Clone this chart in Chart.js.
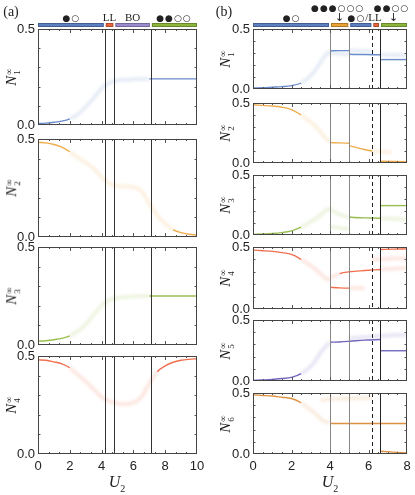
<!DOCTYPE html>
<html>
<head>
<meta charset="utf-8">
<script src="https://cdn.jsdelivr.net/npm/chart.js@4.4.0/dist/chart.umd.min.js"></script>
<style>
body { margin: 0; background: #fff; }
#fig { position: relative; width: 415px; height: 495px; overflow: hidden; font-family: "Liberation Serif", serif; color: #222; }
.panel { position: absolute; }
.lab { position: absolute; white-space: nowrap; transform: translate(-50%, -50%); line-height: 1; }
.ytitle { position: absolute; white-space: nowrap; transform: translate(-50%, -50%) rotate(-90deg); font-size: 15px; line-height: 1; }
.ss { display: inline-block; vertical-align: -0.45em; font-size: 9px; line-height: 0.95; font-style: normal; text-align: left; margin-left: 1px; }
.ss span { display: block; }
.sym { font-family: "DejaVu Sans", sans-serif; font-size: 9px; letter-spacing: 1px; }
.arrow { font-family: "DejaVu Sans", sans-serif; }
</style>
</head>
<body>
<div id="fig"></div>
<script>
// (a): populations vs U2
const uA = [0, 0.5, 1, 1.5, 2, 2.5, 3, 3.5, 4, 4.5, 5, 5.5, 6, 6.5, 7, 7.5, 8, 8.5, 9, 9.5, 10];
const nA1 = [0.008, 0.01, 0.014, 0.02, 0.032, 0.055, 0.095, 0.14, 0.19, 0.22, 0.232, 0.236, 0.238, 0.24, 0.24, 0.24, 0.24, 0.24, 0.24, 0.24, 0.24];
const nA2 = [0.483, 0.48, 0.472, 0.458, 0.435, 0.405, 0.38, 0.35, 0.305, 0.272, 0.262, 0.258, 0.254, 0.235, 0.17, 0.11, 0.068, 0.038, 0.022, 0.014, 0.01];
const nA3 = [0.02, 0.022, 0.027, 0.034, 0.047, 0.07, 0.105, 0.155, 0.2, 0.23, 0.24, 0.245, 0.248, 0.25, 0.25, 0.25, 0.25, 0.25, 0.25, 0.25, 0.25];
const nA4 = [0.48, 0.478, 0.47, 0.46, 0.44, 0.405, 0.37, 0.33, 0.29, 0.268, 0.258, 0.255, 0.262, 0.29, 0.36, 0.42, 0.45, 0.468, 0.478, 0.483, 0.486];

// (b): common part up to U2 = 4, then branches
const uB = [0, 0.5, 1, 1.5, 2, 2.5, 3, 3.25, 3.5, 3.75, 4];
const nB1 = [0.008, 0.01, 0.015, 0.02, 0.028, 0.05, 0.11, 0.16, 0.22, 0.28, 0.315];
const nB2 = [0.485, 0.48, 0.475, 0.465, 0.445, 0.4, 0.34, 0.305, 0.26, 0.21, 0.175];
const nB3 = [0.005, 0.008, 0.012, 0.02, 0.035, 0.065, 0.11, 0.135, 0.165, 0.2, 0.225];
const nB4 = [0.475, 0.47, 0.465, 0.455, 0.44, 0.4, 0.35, 0.32, 0.285, 0.25, 0.23];
const nB5 = [0.005, 0.008, 0.012, 0.02, 0.03, 0.06, 0.12, 0.17, 0.23, 0.28, 0.315];
const nB6 = [0.485, 0.48, 0.475, 0.465, 0.455, 0.42, 0.36, 0.33, 0.29, 0.265, 0.255];

const uB1Branch = [[4, 4.5, 5, 5.6, 6.2], [4, 5, 5.8, 6.6, 7.3, 8], [6.6, 8]];
const nB1Branch = [[0.318, 0.32, 0.32, 0.318, 0.315], [0.3, 0.29, 0.287, 0.285, 0.283, 0.28], [0.245, 0.245]];
const uB2Branch = [[4, 4.5, 5], [5, 5.6, 6.2, 7.2], [6.6, 8]];
const nB2Branch = [[0.17, 0.168, 0.165], [0.145, 0.12, 0.1, 0.09], [0.015, 0.01]];
const uB3Branch = [[4, 4.5, 5, 5.8, 6.6, 7.3, 8], [4, 4.5, 5], [6.6, 8]];
const nB3Branch = [[0.215, 0.17, 0.15, 0.143, 0.14, 0.135, 0.13], [0.07, 0.058, 0.05], [0.245, 0.245]];
const uB4Branch = [[4, 4.5, 5, 5.8, 6.6, 7.3, 8], [4, 4.5, 5, 5.4, 5.8], [6.6, 7.3, 8], [6.2, 7, 8]];
const nB4Branch = [[0.25, 0.285, 0.3, 0.31, 0.318, 0.325, 0.33], [0.175, 0.17, 0.168, 0.168, 0.168], [0.48, 0.483, 0.485], [0.4, 0.405, 0.41]];
const uB5Branch = [[4, 4.5, 5, 5.8, 6.6], [5, 5.8, 6.6, 7.3, 8], [6.6, 8]];
const nB5Branch = [[0.318, 0.32, 0.325, 0.335, 0.34], [0.35, 0.36, 0.37, 0.375, 0.38], [0.248, 0.248]];
const uB6Branch = [[4, 5, 5.8, 6.6, 7.3, 8], [3.5, 4, 5, 5.6, 6.2], [6.6, 8]];
const nB6Branch = [[0.25, 0.25, 0.25, 0.25, 0.25, 0.25], [0.44, 0.45, 0.455, 0.458, 0.46], [0.022, 0.008]];

// phase boundaries and labels
const aEdges = [0, 4.2, 4.8, 7.1, 10];
const aPhaseNames = ['●○', 'LL', 'BO', '●●○○'];
const bEdges = [0, 4, 5, 6.2, 6.6, 8];
const bLines = [4, 5, 6.2, 6.6];
const bLabelAt = [2, 4.5, 5.8, 7.3];
const bLabelText = ['●○', '●●●○○○', '●○/LL', '●●○○'];

const BLUE = '#5a80c4', ORANGE = '#eca33a', GREEN = '#8fb83e', RED = '#ef5f3c', PURPLE = '#6258b6', BROWN = '#d9862f';

const fig = document.getElementById('fig');

function rgba(hex, a) {
  const n = parseInt(hex.slice(1), 16);
  return `rgba(${n >> 16},${(n >> 8) & 255},${n & 255},${a})`;
}
function inAny(u, ranges) {
  return ranges.some(r => u >= r[0] && u <= r[1]);
}
// each curve = a blurred faint line where the data are spread out + a thin sharp line elsewhere
function curve(xs, ys, color, fuzzy) {
  const data = xs.map((x, i) => ({ x: x, y: ys[i] }));
  const mid = c => (c.p0.parsed.x + c.p1.parsed.x) / 2;
  return [
    { data, order: 1, blur: true, borderWidth: 3.5, borderColor: rgba(color, 0.17),
      segment: { borderColor: c => inAny(mid(c), fuzzy) ? rgba(color, 0.17) : 'rgba(0,0,0,0)' } },
    { data, order: 0, borderWidth: 1.4, borderColor: color,
      segment: { borderColor: c => inAny(mid(c), fuzzy) ? 'rgba(0,0,0,0)' : rgba(color, 0.9) } }
  ];
}

const blurPlugin = {
  id: 'blur',
  beforeDatasetDraw(chart, args) {
    if (chart.data.datasets[args.index].blur) {
      chart.ctx.save();
      chart.ctx.filter = 'blur(1.4px)';
    }
  },
  afterDatasetDraw(chart, args) {
    if (chart.data.datasets[args.index].blur) chart.ctx.restore();
  }
};

function framePlugin(col, first) {
  return {
    id: 'frame',
    afterDatasetsDraw(chart) {
      const { ctx, chartArea: a, scales: { x, y } } = chart;
      ctx.save();
      ctx.lineWidth = 1;
      col.lines.forEach((u, i) => {
        const px = Math.round(x.getPixelForValue(u)) + 0.5;
        ctx.strokeStyle = col.lineColors[i];
        ctx.setLineDash(col.lineDash[i]);
        ctx.beginPath();
        ctx.moveTo(px, a.top);
        ctx.lineTo(px, a.bottom);
        ctx.stroke();
      });
      ctx.setLineDash([]);
      // inner ticks on all four sides
      ctx.strokeStyle = '#555';
      const nx = Math.round(col.xMax / col.xMinor);
      const every = Math.round(2 / col.xMinor);
      ctx.beginPath();
      for (let k = 1; k < nx; k++) {
        const len = k % every === 0 ? 4 : 2;
        const px = Math.round(x.getPixelForValue(k * col.xMinor)) + 0.5;
        ctx.moveTo(px, a.bottom); ctx.lineTo(px, a.bottom - len);
        ctx.moveTo(px, a.top); ctx.lineTo(px, a.top + len);
      }
      for (let k = 1; k < 5; k++) {
        const py = Math.round(y.getPixelForValue(k * 0.1)) + 0.5;
        ctx.moveTo(a.left, py); ctx.lineTo(a.left + 2.5, py);
        ctx.moveTo(a.right, py); ctx.lineTo(a.right - 2.5, py);
      }
      ctx.stroke();
      ctx.strokeStyle = '#444';
      ctx.strokeRect(a.left + 0.5, a.top + 0.5, a.width - 1, a.height - 1);
      if (first) {
        const n = col.edges.length - 1;
        for (let i = 0; i < n; i++) {
          const x0 = x.getPixelForValue(col.edges[i]) + (i ? 1 : 0);
          const x1 = x.getPixelForValue(col.edges[i + 1]) - (i < n - 1 ? 1 : 0);
          ctx.fillStyle = col.phaseColors[i];
          ctx.fillRect(x0, a.top - 6, x1 - x0, 4);
          ctx.strokeStyle = 'rgba(0,0,0,0.25)';
          ctx.strokeRect(x0 + 0.5, a.top - 5.5, x1 - x0 - 1, 3);
        }
      }
      ctx.restore();
    }
  };
}

function addText(html, x, y, cls, size) {
  const d = document.createElement('div');
  d.className = cls;
  d.style.left = x + 'px';
  d.style.top = y + 'px';
  if (size) d.style.fontSize = size + 'px';
  d.innerHTML = html;
  fig.appendChild(d);
  return d;
}

function makePanel(col, row, curves) {
  const T = col.tops[row], H = col.heights[row];
  const first = row === 0, last = row === col.tops.length - 1;
  const padTop = first ? T : 8, padBottom = last ? 4 : 8, axisH = last ? 24 : 0;
  const div = document.createElement('div');
  div.className = 'panel';
  div.style.cssText = `left:${col.divLeft}px;top:${T - padTop}px;width:${col.divWidth}px;height:${padTop + H + axisH + padBottom}px`;
  const canvas = document.createElement('canvas');
  div.appendChild(canvas);
  fig.appendChild(div);
  const tickFont = { family: 'Liberation Sans', size: 13 };
  const chart = new Chart(canvas, {
    type: 'line',
    data: { datasets: curves.flat() },
    options: {
      responsive: true,
      maintainAspectRatio: false,
      animation: false,
      devicePixelRatio: 1,
      layout: { padding: { top: padTop, bottom: padBottom, left: 0, right: col.divLeft + col.divWidth - col.plotRight } },
      elements: { point: { radius: 0 }, line: { cubicInterpolationMode: 'monotone', fill: false } },
      plugins: { legend: { display: false }, tooltip: { enabled: false } },
      scales: {
        x: {
          type: 'linear', min: 0, max: col.xMax, display: last,
          grid: { display: false, drawTicks: false }, border: { display: false },
          ticks: { stepSize: 2, padding: 5, color: '#222', font: tickFont, maxRotation: 0 },
          afterFit: s => { s.height = axisH; s.paddingLeft = 0; s.paddingRight = 0; }
        },
        y: {
          min: 0, max: 0.5,
          grid: { display: false, drawTicks: false }, border: { display: false },
          ticks: { padding: 3, color: '#222', font: tickFont, callback: v => v.toFixed(1) },
          afterBuildTicks: s => { s.ticks = [{ value: 0 }, { value: 0.5 }]; },
          afterFit: s => { s.width = col.plotLeft - col.divLeft; s.paddingTop = 0; s.paddingBottom = 0; }
        }
      }
    },
    plugins: [blurPlugin, framePlugin(col, first)]
  });
  addText(`<i>N</i><span class="ss"><span>∞</span><span>${row + 1}</span></span>`, col.titleX, T + H / 2, 'ytitle');
  return chart;
}

const colA = {
  divLeft: 0, divWidth: 205, plotLeft: 38, plotRight: 197,
  tops: [29, 139, 247, 356], heights: [96, 98, 98, 98],
  xMax: 10, xMinor: 2 / 3, titleX: 13,
  lines: aEdges.slice(1, -1), lineColors: ['#333', '#333', '#333'], lineDash: [[], [], []],
  edges: aEdges, phaseColors: ['#5b7fc1', '#e9653b', '#9c8ccf', '#8cb53b']
};
const colB = {
  divLeft: 215, divWidth: 200, plotLeft: 253, plotRight: 407,
  tops: [29, 103, 175, 247, 320, 393], heights: [60, 60, 60, 62, 61, 61],
  xMax: 8, xMinor: 0.5, titleX: 227,
  lines: bLines, lineColors: ['#888', '#888', '#222', '#222'], lineDash: [[], [], [4, 3], []],
  edges: bEdges, phaseColors: ['#5b7fc1', '#e8a235', '#5b7fc1', '#e9653b', '#8cb53b']
};

const aCharts = [
  makePanel(colA, 0, [curve(uA, nA1, BLUE, [[2.2, 7.1]])]),
  makePanel(colA, 1, [curve(uA, nA2, ORANGE, [[2.0, 8.3]])]),
  makePanel(colA, 2, [curve(uA, nA3, GREEN, [[2.2, 7.1]])]),
  makePanel(colA, 3, [curve(uA, nA4, RED, [[2.0, 7.6]])])
];

const bCharts = [
  makePanel(colB, 0, [
    curve(uB, nB1, BLUE, [[2.6, 4]]),
    curve(uB1Branch[0], nB1Branch[0], BLUE, [[5, 8]]),
    curve(uB1Branch[1], nB1Branch[1], BLUE, [[4, 5], [6.6, 8]]),
    curve(uB1Branch[2], nB1Branch[2], BLUE, [])
  ]),
  makePanel(colB, 1, [
    curve(uB, nB2, ORANGE, [[2.6, 4]]),
    curve(uB2Branch[0], nB2Branch[0], ORANGE, []),
    curve(uB2Branch[1], nB2Branch[1], ORANGE, [[6.2, 8]]),
    curve(uB2Branch[2], nB2Branch[2], ORANGE, [])
  ]),
  makePanel(colB, 2, [
    curve(uB, nB3, GREEN, [[2.6, 4]]),
    curve(uB3Branch[0], nB3Branch[0], GREEN, [[4, 5], [6.6, 8]]),
    curve(uB3Branch[1], nB3Branch[1], GREEN, [[4, 5]]),
    curve(uB3Branch[2], nB3Branch[2], GREEN, [])
  ]),
  makePanel(colB, 3, [
    curve(uB, nB4, RED, [[2.6, 4]]),
    curve(uB4Branch[0], nB4Branch[0], RED, [[4, 4.5], [6.6, 8]]),
    curve(uB4Branch[1], nB4Branch[1], RED, [[5, 8]]),
    curve(uB4Branch[2], nB4Branch[2], RED, []),
    curve(uB4Branch[3], nB4Branch[3], RED, [[6, 8]])
  ]),
  makePanel(colB, 4, [
    curve(uB, nB5, PURPLE, [[2.6, 4]]),
    curve(uB5Branch[0], nB5Branch[0], PURPLE, []),
    curve(uB5Branch[1], nB5Branch[1], PURPLE, [[5, 8]]),
    curve(uB5Branch[2], nB5Branch[2], PURPLE, [])
  ]),
  makePanel(colB, 5, [
    curve(uB, nB6, BROWN, [[2.6, 4]]),
    curve(uB6Branch[0], nB6Branch[0], BROWN, []),
    curve(uB6Branch[1], nB6Branch[1], BROWN, [[3, 8]]),
    curve(uB6Branch[2], nB6Branch[2], BROWN, [])
  ])
];

// phase labels above the top panels
const sym = s => s.replace(/[●○]+/g, m => `<span class="sym">${m}</span>`);
const xa = aCharts[0].scales.x;
aPhaseNames.forEach((name, i) => {
  const u = (aEdges[i] + aEdges[i + 1]) / 2;
  addText(sym(name), colA.divLeft + xa.getPixelForValue(u), 17, 'lab', 11);
});
const xb = bCharts[0].scales.x;
bLabelText.forEach((name, i) => {
  const px = colB.divLeft + xb.getPixelForValue(bLabelAt[i]);
  if (i % 2 === 1) {
    addText(sym(name), px - 2, 7, 'lab', 11);
    addText('↓', px, 17, 'lab arrow', 11);
  } else {
    addText(sym(name), px, 17, 'lab', 11);
  }
});

addText('(a)', 11, 12, 'lab', 14);
addText('(b)', 224, 12, 'lab', 14);
addText('<i>U</i><sub style="font-size:10px">2</sub>', 117, 484, 'lab', 16);
addText('<i>U</i><sub style="font-size:10px">2</sub>', 330, 484, 'lab', 16);
</script>
</body>
</html>
